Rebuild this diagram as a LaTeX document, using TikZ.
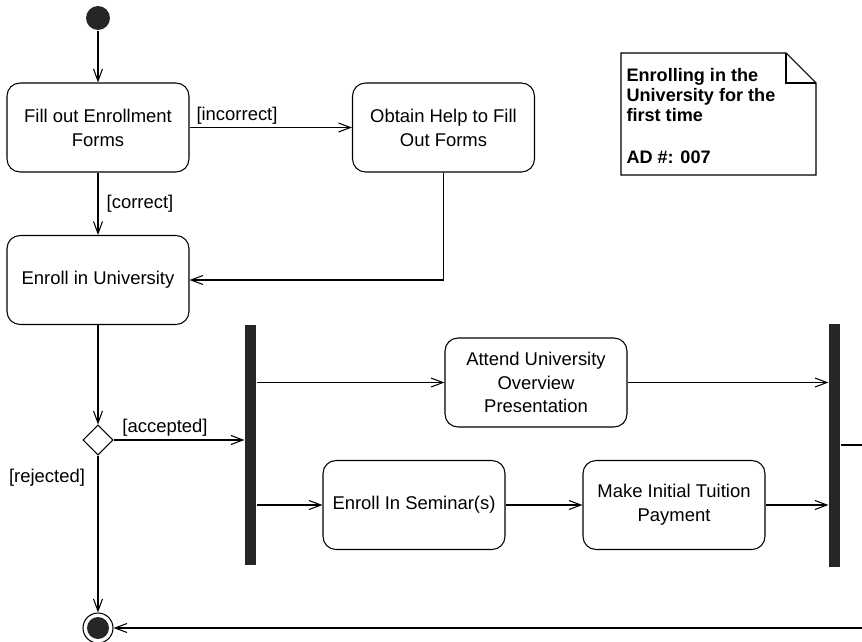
\documentclass[tikz,border=0pt]{standalone}
\usepackage{fontspec}
\setmainfont{Liberation Sans}
\usetikzlibrary{shapes.geometric, arrows.meta}

\begin{document}
\begin{tikzpicture}[x = 0.02cm, y = -0.02cm, line width = 0.6pt,
    attivita/.style = {draw, rounded corners = 2.6mm, minimum width = 3.64cm, minimum height = 1.78cm, align = center, font = \fontsize{10.5}{13.6}\selectfont},
    barra/.style = {fill = black!85, minimum width = 0.22cm, inner sep = 0pt},
    decisione/.style = {draw, diamond, minimum size = 0.6cm, inner sep = 0pt},
    etichetta/.style = {font = \fontsize{10.5}{13.6}\selectfont},
    freccia/.style = {-{Straight Barb[length = 2.4mm, width = 1.8mm]}}]
    % Cornice
    \useasboundingbox (0,0) rectangle (862,642);
    % Nodo iniziale
    \node[circle, fill = black!85, minimum size = 0.48cm, inner sep = 0pt] (inizio) at (98,18) {};
    % Attivita
    \node[attivita] (moduli) at (98,127.5) {Fill out Enrollment\\Forms};
    \node[attivita] (aiuto) at (443.5,127.5) {Obtain Help to Fill\\Out Forms};
    \node[attivita] (iscrizione) at (98,280) {Enroll in University};
    \node[attivita] (presentazione) at (536,382.5) {Attend University\\Overview\\Presentation};
    \node[attivita] (seminari) at (414,505) {Enroll In Seminar(s)};
    \node[attivita] (pagamento) at (674,505) {Make Initial Tuition\\Payment};
    % Decisione, fork e join
    \node[decisione] (scelta) at (98,440) {};
    \node[barra, minimum height = 4.8cm] (fork) at (250.5,445) {};
    \node[barra, minimum height = 4.86cm] (join) at (834.5,445.5) {};
    % Nodo finale
    \node[circle, draw, minimum size = 0.6cm, inner sep = 0pt] (fine) at (98,628) {};
    \fill[black!85] (fine) circle (0.22cm);
    % Coordinate sul bordo destro
    \coordinate (uscita) at (862,445);
    \coordinate (ritorno) at (862,628);
    % Frecce
    \draw[freccia] (inizio) -- (moduli);
    \draw[freccia] (moduli) -- (aiuto);
    \draw[freccia] (moduli) -- (iscrizione);
    \draw[freccia] (aiuto.south) |- (iscrizione.east);
    \draw[freccia] (iscrizione) -- (scelta);
    \draw[freccia] (scelta.east) -- (scelta.east -| fork.west);
    \draw[freccia] (scelta) -- (fine);
    \draw[freccia] (fork.east |- presentazione.west) -- (presentazione.west);
    \draw[freccia] (fork.east |- seminari.west) -- (seminari.west);
    \draw[freccia] (seminari) -- (pagamento);
    \draw[freccia] (presentazione.east) -- (presentazione.east -| join.west);
    \draw[freccia] (pagamento.east) -- (pagamento.east -| join.west);
    \draw (join.east |- uscita) -- (uscita);
    \draw[freccia] (ritorno) -- (fine);
    % Etichette
    \node[etichetta] (incorrect) at (237,116) {[incorrect]};
    \node[etichetta] (correct) at (140,204) {[correct]};
    \node[etichetta] (accepted) at (165,428) {[accepted]};
    \node[etichetta] (rejected) at (47,478) {[rejected]};
    % Nota
    \draw (621,53) -- (786,53) -- (816,83) -- (816,175) -- (621,175) -- cycle;
    \draw (786,53) -- (786,83) -- (816,83);
    \node[anchor = north west, inner sep = 0pt, align = left, font = \fontsize{10.3}{11.4}\selectfont\bfseries] (nota) at (626,68)
        {Enrolling in the\\University for the\\first time\\[12.5pt]AD \#: 007};
\end{tikzpicture}
\end{document}
